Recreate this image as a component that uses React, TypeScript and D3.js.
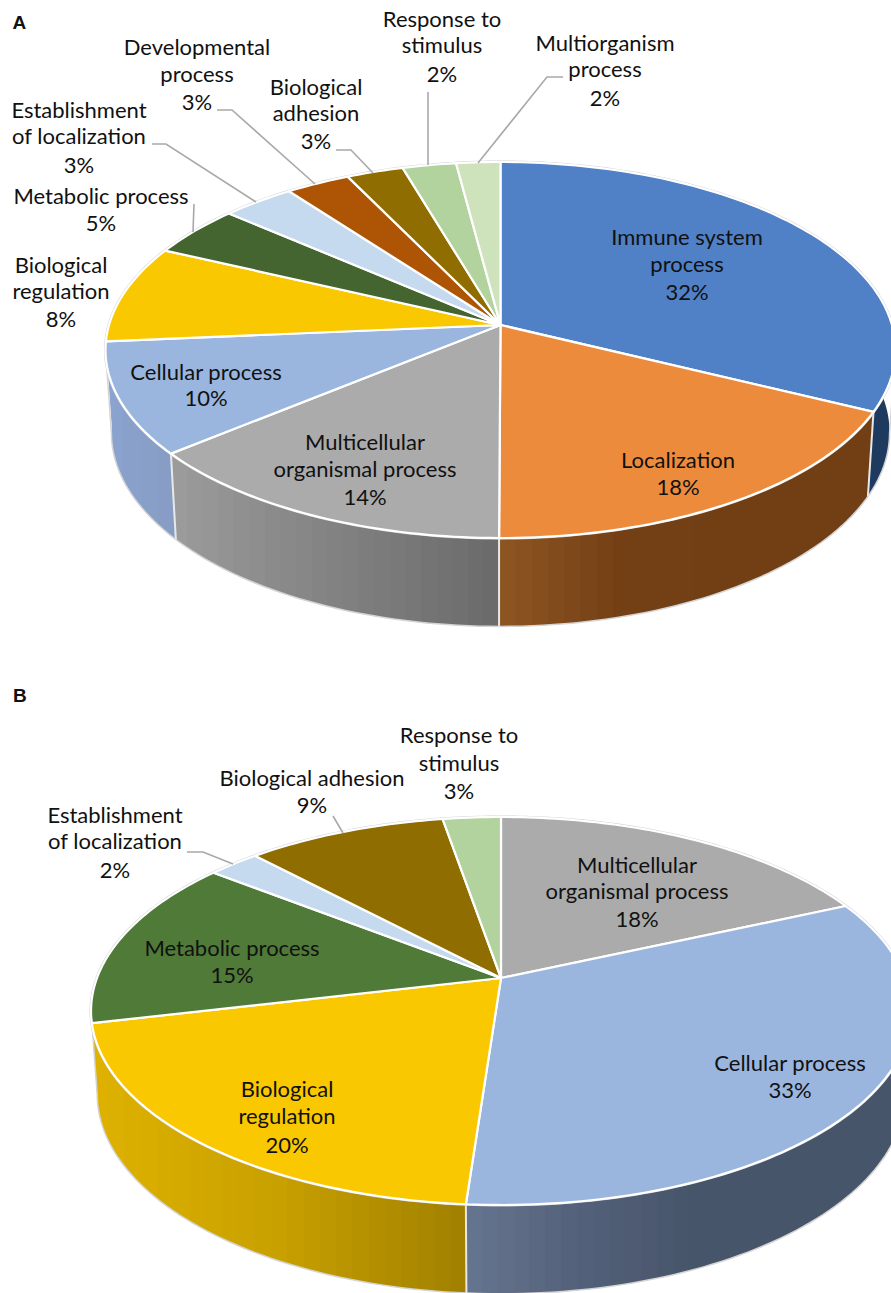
import React from "react";
import * as d3 from "d3";

// ---------- data ----------
const categoriesA = ["Immune system process","Localization","Multicellular organismal process","Cellular process","Biological regulation","Metabolic process","Establishment of localization","Developmental process","Biological adhesion","Response to stimulus","Multiorganism process"];
const valuesA = [32.3, 17.75, 13.95, 9.6, 8.4, 4.4, 3.4, 3.0, 2.65, 2.5, 2.05];
const coloursA = ["#5080c6","#ed8b3c","#ababab","#9ab6de","#fac800","#446530","#c5daef","#ad5505","#8f6d00","#b3d39e","#cee2bb"];
// wall shades, left to right across each slice's width
const wallsA = [["#1f3a5f","#1f3a5f"],["#8d5522","#733f14","#723f14","#723f14"],["#9c9c9c","#8a8a8a","#7a7a7a","#6a6a6a"],["#8aa3cf","#869cc4"],["#8aa3cf","#8aa3cf"],["#334d24","#334d24"],["#94a4b3","#94a4b3"],["#824003","#824003"],["#6b5200","#6b5200"],["#869e76","#869e76"],["#9aa98c","#9aa98c"]];

const categoriesB = ["Multicellular organismal process","Cellular process","Biological regulation","Metabolic process","Establishment of localization","Biological adhesion","Response to stimulus"];
const valuesB = [18.3, 32.85, 20.15, 14.3, 2.4, 9.3, 2.7];
const coloursB = ["#ababab","#9ab6de","#fac800","#507a38","#c5daef","#8f6d00","#b3d39e"];
const wallsB = [["#808080","#808080"],["#667590","#54617a","#47556a","#47556a","#47556a"],["#dfb200","#c8a000","#a08000"],["#dfb200","#dfb200"],["#94a4b3","#94a4b3"],["#6b5200","#6b5200"],["#869e76","#869e76"]];

// label text
const labelLinesA = [["Immune system","process","32%"],["Localization","18%"],["Multicellular","organismal process","14%"],["Cellular process","10%"],["Biological","regulation","8%"],["Metabolic process","5%"],["Establishment","of localization","3%"],["Developmental","process","3%"],["Biological","adhesion","3%"],["Response to","stimulus","2%"],["Multiorganism","process","2%"]];
const labelLinesB = [["Multicellular","organismal process","18%"],["Cellular process","33%"],["Biological","regulation","20%"],["Metabolic process","15%"],["Establishment","of localization","2%"],["Biological adhesion","9%"],["Response to","stimulus","3%"]];

// ---------- layout (not data) ----------
const labelPlaceA = [
  [687,[245,272,300]],[678,[468,495]],[365,[450,477,505]],[206,[380,406]],[61,[273,299,327]],[101,[204,231]],
  [79,[118,144,173]],[197,[55,82,110]],[316,[95,121,149]],[442,[27,53,82]],[605,[51,77,106]],
] as [number, number[]][];
const labelPlaceB = [
  [637,[873,899,927]],[790,[1071,1098]],[287,[1097,1124,1153]],[232,[956,983]],[115,[823,849,878]],[312,[786,813]],[459,[743,771,799]],
] as [number, number[]][];
const leadersA = [
  [[194,204],[193,232]],
  [[152,144],[166,144],[256,202]],
  [[217,110],[232,110],[315,184]],
  [[336,150],[351,150],[373,173]],
  [[428,92],[428,165]],
  [[563,77],[547,77],[478,163]],
] as [number, number][][];
const leadersB = [
  [[187,852],[203,852],[233,864]],
  [[333,816],[343,833]],
] as [number, number][][];

type Geo = { id: string; cx: number; cy: number; R: number; B: number; k: number; sX: number; sY: number; d: number };
const geoA: Geo = { id: "a", cx: 500.5, cy: 325, R: 391.5, B: 184.7, k: 0.133, sX: 0.985, sY: 1.03, d: 82 };
const geoB: Geo = { id: "b", cx: 501, cy: 978, R: 404, B: 188.4, k: 0.17, sX: 0.985, sY: 1.03, d: 82 };

const FONT = "Lato, 'Open Sans', sans-serif";
const line = d3.line<[number, number]>();

function top(g: Geo, t: number): [number, number] {
  const u = Math.sin(t), v = -Math.cos(t), w = 1 - g.k * v;
  return [g.cx + (g.R * u) / w, g.cy + (g.B * v) / w];
}
function base(g: Geo, t: number): [number, number] {
  const [x, y] = top(g, t);
  return [g.cx + (x - g.cx) * g.sX, g.cy + g.d + (y - g.cy) * g.sY];
}

function Pie({ g, values, colours, walls, cats, lines, place, leaders }: any) {
  const arcs = d3.pie<number>().sort(null).startAngle(0).endAngle(2 * Math.PI)(values);
  const ring = d3.range(0, 361, 1).map((a) => (a * Math.PI) / 180);
  // the angle at which each rim turns from front to back
  const turn = Math.acos(g.k);
  const frontStart = Math.PI / 2 + Math.asin(g.k);
  const frontEnd = 2 * Math.PI - frontStart;
  const front = d3.range(0, 121).map((q) => frontStart + ((frontEnd - frontStart) * q) / 120);
  const defs: any[] = [];
  const wallPaths: any[] = [];
  arcs.forEach((a: any, i: number) => {
    const steps = Math.max(2, Math.ceil((a.endAngle - a.startAngle) / 0.02));
    const s = d3.scaleLinear().domain([0, steps]).range([a.startAngle, a.endAngle]);
    const ts = d3.range(0, steps + 1).map((q) => s(q));
    const poly = [...ts.map((t) => top(g, t)), ...ts.slice().reverse().map((t) => base(g, t))] as [number, number][];
    const [x0, x1] = d3.extent(poly, (p) => p[0]) as [number, number];
    const sw: string[] = walls[i];
    const col = d3.scaleLinear<string>().domain(sw.map((_, j) => j / (sw.length - 1))).range(sw).interpolate(d3.interpolateRgb);
    const n = Math.max(1, Math.round((x1 - x0) / 16));
    const id = `w-${g.id}-${i}`;
    const stops: any[] = [];
    for (let b = 0; b < n; b++) {
      const c = col((b + 0.5) / n);
      stops.push(<stop key={`${b}a`} offset={b / n} stopColor={c} />, <stop key={`${b}b`} offset={(b + 1) / n} stopColor={c} />);
    }
    defs.push(<linearGradient key={id} id={id} gradientUnits="userSpaceOnUse" x1={x0} x2={x1} y1={0} y2={0}>{stops}</linearGradient>);
    wallPaths.push(<path key={id} d={line(poly) + "Z"} fill={`url(#${id})`} />);
  });
  return (
    <g data-turn={turn}>
      <defs>{defs}</defs>
      {wallPaths}
      <path d={line([top(g, frontStart), ...front.map((t) => base(g, t)), top(g, frontEnd)]) as string} fill="none" stroke="#d4d4d4" strokeWidth={1.5} />
      {arcs.map((a: any, i: number) => {
        const t = a.startAngle;
        if (-Math.cos(t) < 0.3) return null;
        return <path key={`e${i}`} d={line([top(g, t), base(g, t)]) as string} stroke="#e8e8e8" strokeWidth={2} fill="none" />;
      })}
      <path d={line(ring.map((t) => top(g, t))) + "Z"} fill="none" stroke="#cfcfcf" strokeWidth={3} />
      {arcs.map((a: any, i: number) => {
        const steps = Math.max(2, Math.ceil((a.endAngle - a.startAngle) / 0.02));
        const s = d3.scaleLinear().domain([0, steps]).range([a.startAngle, a.endAngle]);
        const pts = d3.range(0, steps + 1).map((q) => top(g, s(q)));
        return (
          <path key={`t${i}`} data-category={cats[i]} data-value={values[i]} d={line([[g.cx, g.cy], ...pts]) + "Z"}
            fill={colours[i]} stroke="#ffffff" strokeWidth={2.2} strokeLinejoin="round" />
        );
      })}
      {leaders.map((l: [number, number][], i: number) => (
        <path key={`l${i}`} d={line(l) as string} fill="none" stroke="#a9a9a9" strokeWidth={1.6} />
      ))}
      {lines.map((ls: string[], i: number) => ls.map((txt, j) => (
        <text key={`x${i}-${j}`} x={place[i][0]} y={place[i][1][j]} textAnchor="middle" fontFamily={FONT} fontSize={22} fill="#111">{txt}</text>
      )))}
    </g>
  );
}

export default function App() {
  return (
    <svg width={891} height={1293} viewBox="0 0 891 1293" style={{ position: "absolute", left: 0, top: 0, display: "block", background: "#fff" }}>
      <Pie g={geoA} values={valuesA} colours={coloursA} walls={wallsA} cats={categoriesA} lines={labelLinesA} place={labelPlaceA} leaders={leadersA} />
      <Pie g={geoB} values={valuesB} colours={coloursB} walls={wallsB} cats={categoriesB} lines={labelLinesB} place={labelPlaceB} leaders={leadersB} />
      <text x={12.5} y={28.5} fontFamily="'Liberation Sans', Arial, sans-serif" fontWeight="bold" fontSize={19} fill="#111">A</text>
      <text x={13} y={702} fontFamily="'Liberation Sans', Arial, sans-serif" fontWeight="bold" fontSize={19} fill="#111">B</text>
    </svg>
  );
}
